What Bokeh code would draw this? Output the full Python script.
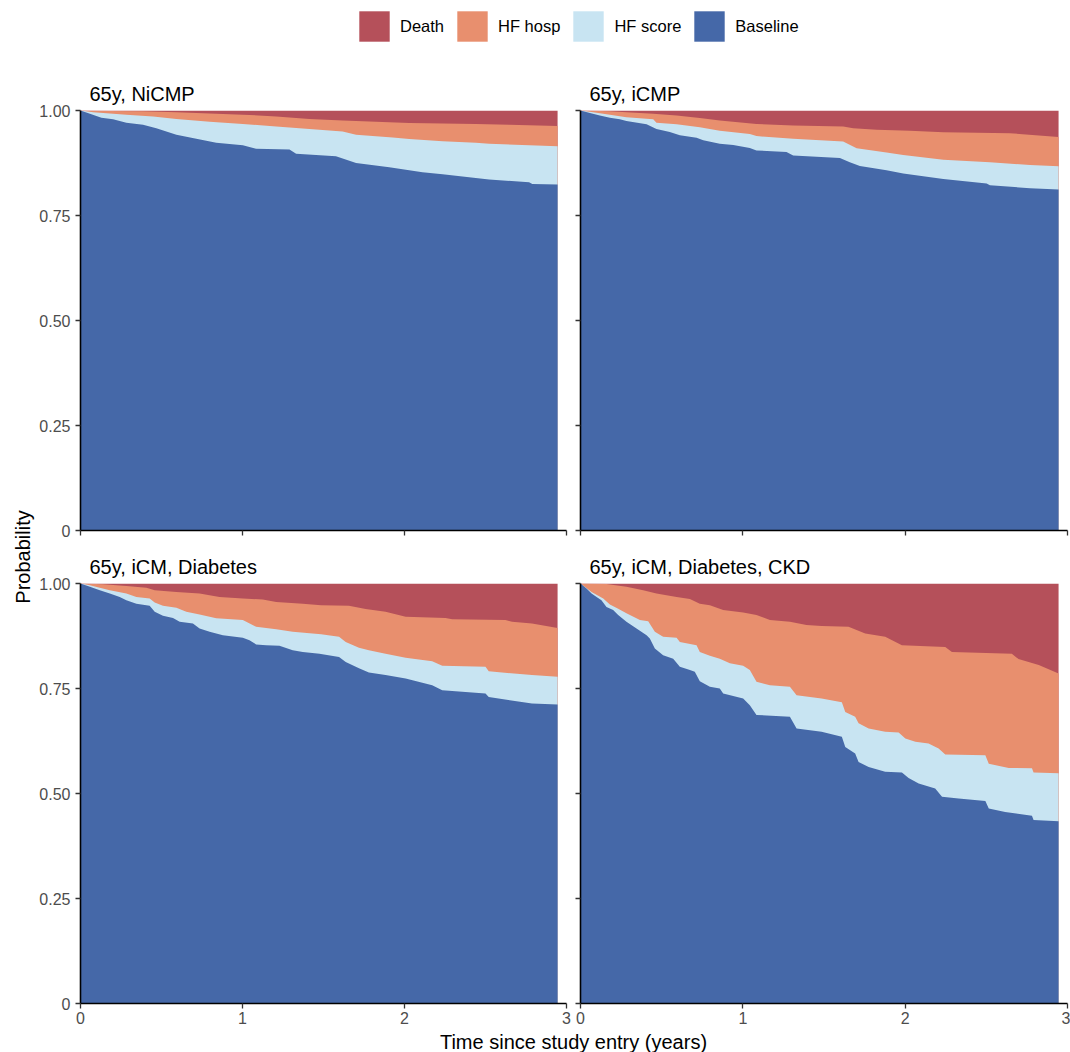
import math
from bokeh.plotting import figure
from bokeh.layouts import row, column
from bokeh.models import Range1d, FixedTicker, Legend, LegendItem, Label
from bokeh.embed import file_html
from bokeh.resources import INLINE

# ---------------- data (stacked state-occupation probabilities) ----------------
STATES = ["Death", "HF hosp", "HF score", "Baseline"]
STATE_COLORS = ["#B5505A", "#E88F6E", "#C8E4F2", "#4568A8"]
PANEL_TITLES = ["65y, NiCMP", "65y, iCMP", "65y, iCM, Diabetes", "65y, iCM, Diabetes, CKD"]
X_TICKS = [0, 1, 2, 3]
X_LABELS = ["0", "1", "2", "3"]
Y_TICKS = [0, 0.25, 0.5, 0.75, 1.0]
Y_LABELS = ["0", "0.25", "0.50", "0.75", "1.00"]

# (time, cumulative probability) : Baseline, Baseline+HF score, Baseline+HF score+HF hosp
NICMP_BASELINE = [(0, 1.0), (.058, .992), (.129, .983), (.201, .979), (.283, .971), (.386, .966), (.468, .958),
                  (.592, .942), (.715, .933), (.838, .923), (1.002, .917), (1.084, .909), (1.290, .907),
                  (1.331, .897), (1.577, .891), (1.701, .875), (1.906, .865), (2.111, .853), (2.235, .848),
                  (2.522, .836), (2.769, .829), (2.789, .825), (2.945, .824)]
NICMP_SCORE = [(0, 1.0), (.078, .996), (.181, .993), (.283, .990), (.448, .986), (.592, .980), (.797, .973),
               (1.002, .968), (1.208, .962), (1.413, .956), (1.618, .950), (1.701, .942), (1.927, .936),
               (2.029, .932), (2.235, .927), (2.440, .923), (2.522, .921), (2.769, .917), (2.945, .915)]
NICMP_HOSP = [(0, 1.0), (.181, .999), (.386, .998), (.592, .996), (.797, .993), (1.002, .990), (1.208, .986),
              (1.413, .980), (1.618, .976), (1.824, .973), (2.029, .970), (2.235, .969), (2.440, .968),
              (2.645, .966), (2.945, .963)]

ICMP_BASELINE = [(0, 1.0), (.058, .994), (.119, .988), (.181, .983), (.242, .979), (.283, .975), (.407, .967),
                 (.468, .956), (.550, .949), (.612, .941), (.715, .935), (.756, .929), (.858, .921), (.941, .918),
                 (1.043, .911), (1.084, .905), (1.269, .901), (1.310, .893), (1.598, .887), (1.659, .877),
                 (1.721, .868), (1.885, .858), (1.988, .850), (2.235, .837), (2.502, .826), (2.522, .822),
                 (2.769, .815), (2.945, .812)]
ICMP_SCORE = [(0, 1.0), (.078, .996), (.181, .990), (.283, .984), (.448, .979), (.468, .971), (.592, .967),
              (.735, .960), (.858, .952), (1.043, .944), (1.084, .939), (1.310, .933), (1.618, .926),
              (1.701, .910), (1.885, .900), (1.988, .894), (2.235, .883), (2.522, .877), (2.769, .870),
              (2.945, .867)]
ICMP_HOSP = [(0, 1.0), (.181, .998), (.283, .996), (.448, .992), (.592, .988), (.735, .982), (.858, .976),
             (1.084, .968), (1.310, .964), (1.618, .962), (1.680, .958), (1.824, .954), (2.029, .952),
             (2.235, .948), (2.645, .946), (2.945, .937)]

ICM_DM_BASELINE = [(0, 1.0), (.058, .992), (.119, .984), (.181, .976), (.242, .968), (.283, .960), (.345, .952),
                   (.427, .947), (.458, .933), (.509, .923), (.571, .918), (.612, .909), (.694, .905),
                   (.735, .893), (.797, .885), (.879, .877), (1.002, .871), (1.043, .865), (1.084, .855),
                   (1.146, .853), (1.228, .852), (1.310, .841), (1.372, .837), (1.475, .833), (1.596, .825),
                   (1.637, .813), (1.719, .798), (1.780, .788), (1.883, .782), (2.007, .774), (2.171, .758),
                   (2.233, .746), (2.500, .738), (2.520, .730), (2.787, .714), (2.945, .712)]
ICM_DM_SCORE = [(0, 1.0), (.058, .996), (.119, .990), (.181, .984), (.283, .976), (.345, .968), (.427, .964),
                (.458, .955), (.509, .947), (.592, .942), (.653, .933), (.735, .926), (.838, .917),
                (1.002, .913), (1.084, .897), (1.208, .891), (1.310, .885), (1.485, .879), (1.596, .873),
                (1.637, .861), (1.719, .847), (1.780, .841), (1.883, .833), (2.007, .823), (2.171, .815),
                (2.233, .804), (2.500, .802), (2.520, .791), (2.787, .782), (2.945, .778)]
ICM_DM_HOSP = [(0, 1.0), (.140, .998), (.283, .994), (.407, .990), (.458, .984), (.592, .980), (.735, .976),
               (.858, .968), (1.002, .964), (1.125, .962), (1.208, .956), (1.372, .952), (1.485, .948),
               (1.657, .947), (1.760, .939), (1.883, .933), (2.007, .921), (2.253, .918), (2.294, .915),
               (2.623, .913), (2.664, .909), (2.787, .905), (2.945, .894)]

ICM_DM_CKD_BASELINE = [(0, 1.0), (.037, .988), (.068, .976), (.099, .968), (.129, .960), (.160, .944),
                       (.201, .937), (.232, .925), (.283, .909), (.345, .893), (.407, .877), (.427, .869),
                       (.458, .845), (.509, .829), (.571, .821), (.612, .802), (.674, .794), (.704, .790),
                       (.735, .767), (.797, .754), (.858, .750), (.879, .738), (1.002, .726), (1.043, .710),
                       (1.084, .687), (1.290, .683), (1.331, .655), (1.485, .647), (1.610, .635), (1.631, .611),
                       (1.692, .595), (1.713, .575), (1.775, .563), (1.877, .552), (1.980, .550), (2.021, .537),
                       (2.083, .524), (2.185, .512), (2.227, .492), (2.329, .488), (2.494, .482), (2.515, .464),
                       (2.616, .456), (2.781, .447), (2.791, .437), (2.945, .434)]
ICM_DM_CKD_SCORE = [(0, 1.0), (.068, .980), (.140, .964), (.181, .950), (.232, .940), (.283, .929), (.366, .913),
                    (.417, .910), (.458, .885), (.509, .873), (.592, .871), (.612, .861), (.715, .853),
                    (.735, .837), (.797, .828), (.858, .821), (.920, .810), (1.002, .804), (1.043, .794),
                    (1.084, .766), (1.167, .758), (1.290, .754), (1.331, .734), (1.485, .726), (1.610, .717),
                    (1.631, .694), (1.692, .683), (1.713, .667), (1.775, .655), (1.877, .647), (1.960, .645),
                    (2.001, .631), (2.063, .623), (2.144, .619), (2.206, .607), (2.247, .593), (2.494, .591),
                    (2.515, .571), (2.638, .561), (2.781, .560), (2.791, .550), (2.945, .548)]
ICM_DM_CKD_HOSP = [(0, 1.0), (.160, .999), (.283, .992), (.386, .984), (.468, .976), (.592, .968), (.674, .963),
                   (.735, .952), (.797, .948), (.879, .937), (1.002, .931), (1.084, .925), (1.167, .913),
                   (1.290, .909), (1.392, .901), (1.485, .899), (1.651, .897), (1.754, .881), (1.877, .873),
                   (1.980, .853), (2.247, .849), (2.288, .837), (2.657, .833), (2.698, .820), (2.823, .806),
                   (2.945, .786)]

PANELS = [
    (PANEL_TITLES[0], NICMP_BASELINE, NICMP_SCORE, NICMP_HOSP),
    (PANEL_TITLES[1], ICMP_BASELINE, ICMP_SCORE, ICMP_HOSP),
    (PANEL_TITLES[2], ICM_DM_BASELINE, ICM_DM_SCORE, ICM_DM_HOSP),
    (PANEL_TITLES[3], ICM_DM_CKD_BASELINE, ICM_DM_CKD_SCORE, ICM_DM_CKD_HOSP),
]

FONT = "Liberation Sans"
TICK_COLOR = "#333333"
LABEL_COLOR = "#4D4D4D"


def style_axis(ax, ticks, labels, show_labels, standoff):
    if show_labels:
        ax.ticker = FixedTicker(ticks=ticks)
        ax.major_label_overrides = {t: l for t, l in zip(ticks, labels)}
        ax.minor_tick_line_color = None
        ax.major_label_text_font_size = "16px"
        ax.major_label_standoff = standoff
    else:
        # ticks without labels: use minor ticks only
        ax.ticker = FixedTicker(ticks=[], minor_ticks=ticks)
        ax.minor_tick_in = 0
        ax.minor_tick_out = 5
        ax.minor_tick_line_color = TICK_COLOR
        ax.minor_tick_line_width = 1.3
        ax.major_label_standoff = 0
    ax.major_tick_in = 0
    ax.major_tick_out = 5
    ax.major_tick_line_color = TICK_COLOR
    ax.major_tick_line_width = 1.3
    ax.axis_line_color = "black"
    ax.axis_line_width = 1.6
    ax.major_label_text_font = FONT
    ax.major_label_text_color = LABEL_COLOR


def split(points):
    return [t for t, _ in points], [v for _, v in points]


BOTTOM_BORDER = 28


def make_panel(title, base, score, hosp, left, bottom):
    bl = 43 if left else 7
    br = 7 if left else 3
    bt = 50 if not bottom else 43
    bb = 10 if not bottom else BOTTOM_BORDER
    p = figure(width=bl + 487 + br, height=bt + 420 + bb,
               x_range=Range1d(0, 3), y_range=Range1d(0, 1),
               output_backend="svg", toolbar_location=None,
               min_border_left=bl, min_border_right=br, min_border_top=bt, min_border_bottom=bb)
    p.outline_line_color = None
    p.grid.visible = False
    p.background_fill_color = "white"
    p.border_fill_color = "white"

    ht, hv = split(hosp)
    st, sv = split(score)
    bt_, bv = split(base)
    # Death occupies everything above the HF hosp boundary up to 1
    p.varea(x=ht, y1=[0] * len(ht), y2=[1.0] * len(ht), fill_color=STATE_COLORS[0])
    p.varea(x=ht, y1=[0] * len(ht), y2=hv, fill_color=STATE_COLORS[1])
    p.varea(x=st, y1=[0] * len(st), y2=sv, fill_color=STATE_COLORS[2])
    p.varea(x=bt_, y1=[0] * len(bt_), y2=bv, fill_color=STATE_COLORS[3])

    p.title.text = title
    p.title.text_font = FONT
    p.title.text_font_size = "20px"
    p.title.text_font_style = "normal"
    p.title.text_color = "black"
    p.title.align = "left"
    p.title.offset = 9
    p.title.standoff = 12

    style_axis(p.xaxis[0], X_TICKS, X_LABELS, bottom, 3)
    style_axis(p.yaxis[0], Y_TICKS, Y_LABELS, left, 5)
    return p


panels = []
for i, (title, base, score, hosp) in enumerate(PANELS):
    panels.append(make_panel(title, base, score, hosp, left=(i % 2 == 0), bottom=(i >= 2)))

# legend figure (legend renderers carry the first panel's data but are hidden)
leg = figure(width=1034, height=60, x_range=Range1d(0, 3), y_range=Range1d(0, 1), title=None,
             x_axis_type=None, y_axis_type=None, output_backend="svg", toolbar_location=None,
             min_border=0)
leg.outline_line_color = None
leg.grid.visible = False
ht0, hv0 = split(NICMP_HOSP)
items = []
for name, col in zip(STATES, STATE_COLORS):
    r = leg.varea(x=ht0, y1=[0] * len(ht0), y2=hv0, fill_color=col, visible=False)
    items.append(LegendItem(label=name, renderers=[r]))
legend = Legend(items=items, orientation="horizontal", location=(319, 15),
                glyph_width=38, glyph_height=38, label_standoff=7, spacing=9,
                label_text_font=FONT, label_text_font_size="16.5px", label_text_color="black",
                padding=0, margin=0, border_line_color=None, background_fill_alpha=0,
                inactive_fill_alpha=0, click_policy="none")
leg.add_layout(legend)

# x axis title figure
XLAB_H = 1052 - 60 - 480 - (43 + 420 + BOTTOM_BORDER)
xlab = figure(width=1034, height=XLAB_H, x_range=Range1d(0, 1034), y_range=Range1d(0, XLAB_H), title=None,
              x_axis_type=None, y_axis_type=None, output_backend="svg", toolbar_location=None,
              min_border=0)
xlab.outline_line_color = None
xlab.grid.visible = False
xlab.add_layout(Label(x=537, y=XLAB_H - 10, text="Time since study entry (years)", text_align="center",
                      text_baseline="middle", text_font=FONT, text_font_size="20px", text_color="black"))

# y axis title figure
ylab = figure(width=36, height=1052, x_range=Range1d(0, 36), y_range=Range1d(0, 1052), title=None,
              x_axis_type=None, y_axis_type=None, output_backend="svg", toolbar_location=None,
              min_border=0)
ylab.outline_line_color = None
ylab.grid.visible = False
ylab.add_layout(Label(x=22, y=1052 - 556.5, text="Probability", angle=math.pi / 2, text_align="center",
                      text_baseline="middle", text_font=FONT, text_font_size="20px", text_color="black"))

layout = row(ylab, column(leg, row(panels[0], panels[1]), row(panels[2], panels[3]), xlab))

open("out.html", "w").write(file_html(layout, INLINE))
